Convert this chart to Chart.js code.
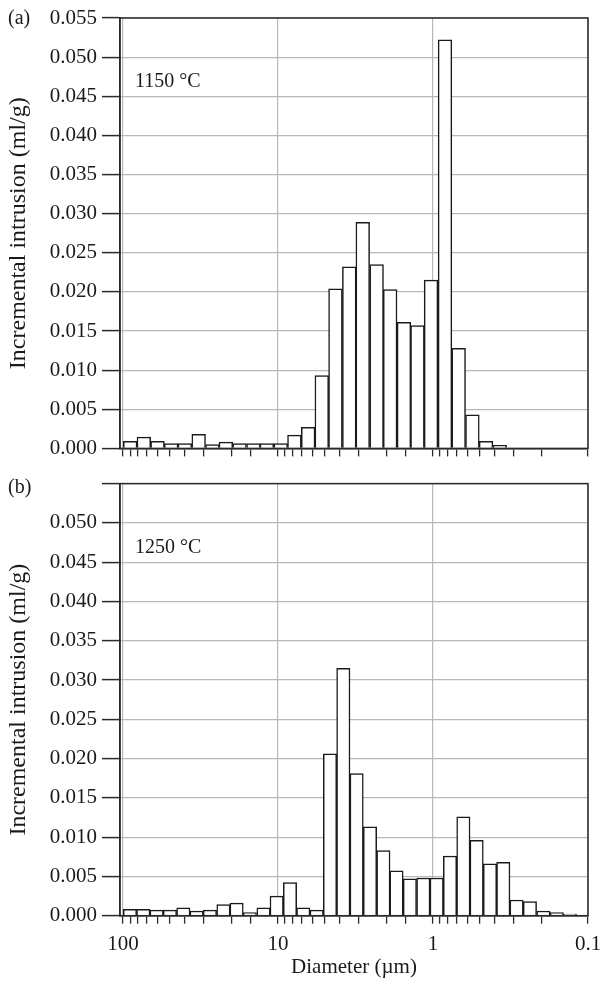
<!DOCTYPE html>
<html>
<head>
<meta charset="UTF-8">
<title>Incremental intrusion</title>
<script src="https://cdn.jsdelivr.net/npm/chart.js"></script>
<style>
  body { margin: 0; background: #fff; }
  #wrap { position: relative; width: 602px; height: 984px; }
  #topChart { position: absolute; left: 0; top: 0; }
  #bottomChart { position: absolute; left: 0; top: 466px; }
</style>
</head>
<body>
<div id="wrap">
  <canvas id="topChart" width="602" height="466"></canvas>
  <canvas id="bottomChart" width="602" height="518"></canvas>
</div>
<script>
// pore diameter (µm) at the centre of each bin
const diameters1150 = [89.9, 73.4, 59.9, 48.9, 39.9, 32.5, 26.5, 21.7, 17.7, 14.4,
  11.8, 9.60, 7.84, 6.39, 5.22, 4.26, 3.47, 2.84, 2.31, 1.89,
  1.54, 1.26, 1.03, 0.837, 0.683, 0.557, 0.455, 0.371];
const intrusion1150 = [0.0009, 0.00145, 0.0009, 0.0006, 0.0006, 0.0018, 0.0005, 0.0008, 0.0006, 0.0006,
  0.0006, 0.0006, 0.0017, 0.0027, 0.0093, 0.0204, 0.0232, 0.0289, 0.0235, 0.0203,
  0.0161, 0.0157, 0.0215, 0.0522, 0.0128, 0.0043, 0.0009, 0.0004];

const diameters1250 = [90.2, 74.0, 60.7, 49.8, 40.8, 33.5, 27.5, 22.5, 18.5, 15.2,
  12.4, 10.2, 8.37, 6.87, 5.63, 4.62, 3.79, 3.11, 2.55, 2.09,
  1.72, 1.41, 1.155, 0.947, 0.777, 0.637, 0.523, 0.429, 0.352, 0.289,
  0.237, 0.194, 0.159, 0.131];
const intrusion1250 = [0.0008, 0.0008, 0.0007, 0.0007, 0.0010, 0.0006, 0.0007, 0.0014, 0.0016, 0.0004,
  0.0010, 0.0025, 0.0042, 0.0010, 0.0007, 0.0206, 0.0315, 0.0181, 0.0113, 0.0083,
  0.0057, 0.0047, 0.0048, 0.0048, 0.0076, 0.0126, 0.0096, 0.0066, 0.0068, 0.0020,
  0.0018, 0.0006, 0.0004, 0.0002];

const xLabels = [100, 10, 1, 0.1];
const yMax = 0.055;
const yStep = 0.005;

const SERIF = '"Liberation Serif", "Times New Roman", serif';
Chart.defaults.font.family = SERIF;
Chart.defaults.color = '#1a1a1a';

const framePlugin = {
  id: 'frame',
  afterDatasetsDraw(chart, args, opts) {
    const { ctx, chartArea: a } = chart;
    ctx.save();
    ctx.strokeStyle = '#2a2a2a';
    ctx.lineWidth = 1.5;
    ctx.strokeRect(a.left, a.top, a.right - a.left, a.bottom - a.top);
    ctx.fillStyle = '#1a1a1a';
    ctx.font = '20px ' + SERIF;
    ctx.textBaseline = 'middle';
    ctx.fillText(opts.panel, 8, opts.panelY);
    ctx.fillText(opts.temp, a.left + 15, a.top + 64);
    ctx.restore();
  }
};

function makeChart(id, diam, vals, cfg) {
  return new Chart(document.getElementById(id), {
    type: 'bar',
    data: {
      datasets: [{
        data: diam.map((d, i) => ({ x: d, y: vals[i] })),
        backgroundColor: '#ffffff',
        borderColor: '#1a1a1a',
        borderWidth: 1.5,
        barThickness: cfg.barWidth
      }]
    },
    options: {
      responsive: false,
      animation: false,
      layout: { padding: { top: cfg.padTop, right: 14, left: 0, bottom: 0 } },
      plugins: {
        legend: { display: false },
        tooltip: { enabled: false },
        frame: { panel: cfg.panel, panelY: cfg.panelY, temp: cfg.temp }
      },
      scales: {
        x: {
          type: 'logarithmic',
          reverse: true,
          min: 0.1,
          max: 104.57,
          offset: false,
          afterFit: s => { s.height = cfg.xHeight; s.paddingLeft = 0; s.paddingRight = 0; },
          afterBuildTicks: s => { s.ticks = s.ticks.filter(t => t.value <= 100.01); },
          border: { display: true, color: '#2a2a2a', width: 1.5 },
          grid: {
            offset: false,
            tickLength: 8,
            lineWidth: 1.2,
            tickWidth: 1.3,
            tickColor: '#2a2a2a',
            color: c => (c.tick && xLabels.some(v => Math.abs(c.tick.value - v) < v * 1e-6)) ? '#b8b8b8' : 'rgba(0,0,0,0)'
          },
          ticks: {
            autoSkip: false,
            maxRotation: 0,
            padding: 8,
            font: { size: 21 },
            callback: v => (cfg.showX && xLabels.some(l => Math.abs(v - l) < l * 1e-6)) ? String(v) : ''
          },
          title: {
            display: cfg.showX,
            text: 'Diameter (µm)',
            font: { size: 21 },
            padding: { top: 0, bottom: 4 }
          }
        },
        y: {
          min: 0,
          max: yMax,
          afterFit: s => { s.width = 120; },
          border: { display: true, color: '#2a2a2a', width: 1.5 },
          grid: { tickLength: 18, lineWidth: 1.2, tickWidth: 1.5, color: '#b8b8b8', tickColor: '#2a2a2a' },
          ticks: {
            stepSize: yStep,
            padding: 5,
            font: { size: 21 },
            callback: v => (v > cfg.yLabelMax + 1e-6) ? '' : v.toFixed(3)
          },
          title: {
            display: true,
            text: 'Incremental intrusion (ml/g)',
            font: { size: 24 },
            padding: { top: 4, bottom: 0 }
          }
        }
      }
    },
    plugins: [framePlugin]
  });
}

makeChart('topChart', diameters1150, intrusion1150, {
  padTop: 18, xHeight: 8.5, showX: false, yLabelMax: 0.055, barWidth: 13.7,
  panel: '(a)', panelY: 19, temp: '1150 °C'
});
makeChart('bottomChart', diameters1250, intrusion1250, {
  padTop: 10, xHeight: 68.3, showX: true, yLabelMax: 0.050, barWidth: 13.35,
  panel: '(b)', panelY: 22, temp: '1250 °C'
});
</script>
</body>
</html>
